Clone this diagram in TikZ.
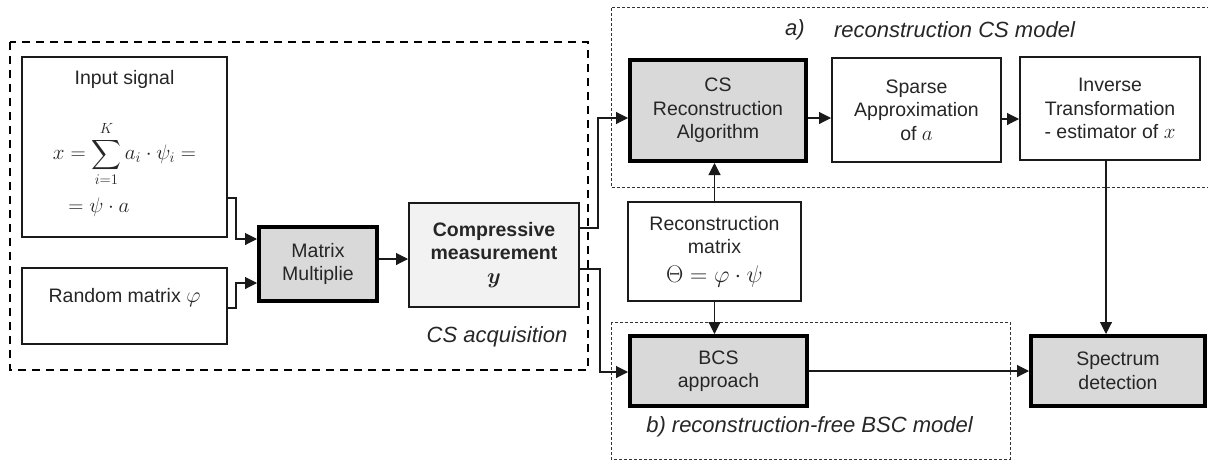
\RequirePackage{fix-cm}
\documentclass[tikz,border=0pt]{standalone}
\usepackage{amsmath,bm}
\usepackage[no-math]{fontspec}
\setmainfont{Liberation Sans}
\usetikzlibrary{arrows.meta,calc}
\definecolor{boxgray}{HTML}{D9D9D9}
\definecolor{lightgray}{HTML}{F2F2F2}
\definecolor{textgray}{HTML}{262626}
\definecolor{linegray}{HTML}{1A1A1A}
\tikzset{
  txt/.style={font=\fontsize{19.5}{23.5}\selectfont, text=textgray, align=center},
  mth/.style={font=\fontsize{21}{25}\selectfont, text=textgray, align=center},
  tbox/.style={draw=black, line width=4pt, fill=boxgray, inner sep=0pt, txt},
  nbox/.style={draw=linegray, line width=2pt, fill=white, inner sep=0pt, txt},
  lbl/.style={font=\fontsize{22}{26}\selectfont\itshape, text=textgray, inner sep=0pt},
  conn/.style={draw=linegray, line width=1.1pt},
  arr/.style={conn, -{Triangle[length=12pt,width=12pt]}},
  bigdash/.style={draw=black, line width=2.5pt, dash pattern=on 8pt off 6pt},
  smalldash/.style={draw=black!80, line width=1pt, dash pattern=on 3pt off 2pt}
}
\begin{document}
\begin{tikzpicture}[x=1pt,y=-1pt]
\useasboundingbox (0,0) rectangle (1208,461);
% group frames
\draw[bigdash] (10,42) rectangle (588,370);
\draw[smalldash] (1220,7) -- (611,7) -- (611,187) -- (1220,187);
\draw[smalldash] (611,322) rectangle (1010,459);
% boxes
\node[nbox, minimum width=205pt, minimum height=180pt] (in) at (124.5,147) {};
\node[txt, inner sep=1pt] (inlbl) at (124.5,79) {Input signal};
\node[mth, inner sep=0pt] (inf1) at (124.5,154) {$\displaystyle x=\sum_{i=1}^{K} a_i\cdot\psi_i =$};
\node[mth] (inf2) at (99,207) {$= \psi\cdot a$};
\node[nbox, minimum width=205pt, minimum height=76pt] (rnd) at (124.5,306) {};
\node[txt] (rndlbl) at (124.5,298) {Random matrix {\fontsize{22}{24}\selectfont$\varphi$}};
\node[tbox, minimum width=118pt, minimum height=74pt] (mm) at (318,264) {Matrix\\Multiplie};
\node[nbox, fill=lightgray, minimum width=170pt, minimum height=104pt] (cm) at (494,255)
  {\textbf{Compressive}\\\textbf{measurement}\\{\fontsize{22}{24}\selectfont$\boldsymbol{y}$}};
\node[tbox, minimum width=176pt, minimum height=101pt] (csr) at (718,110.5) {CS\\Reconstruction\\Algorithm};
\node[nbox, minimum width=169pt, minimum height=104pt] (sp) at (916.5,110) {Sparse\\Approximation\\of {\fontsize{21}{24}\selectfont$a$}};
\node[nbox, minimum width=180pt, minimum height=103pt] (inv) at (1110,108.5) {Inverse\\Transformation\\- estimator of {\fontsize{21}{24}\selectfont$x$}};
\node[nbox, minimum width=173pt, minimum height=99pt] (rm) at (714.5,251.5)
  {Reconstruction\\matrix\\[5pt]{\fontsize{24}{26}\selectfont$\Theta=\varphi\cdot\psi$}};
\node[tbox, minimum width=177pt, minimum height=70pt] (bcs) at (718.5,371) {BCS\\approach};
\node[tbox, minimum width=174pt, minimum height=70pt] (spec) at (1118,371) {Spectrum\\detection};
% labels
\node[lbl] (acqlbl) at (497,337) {CS acquisition};
\node[lbl] (albl) at (795,30) {a)};
\node[lbl] (alblb) at (954.5,30) {reconstruction CS model};
\node[lbl] (blbl) at (809.5,427) {b) reconstruction-free BSC model};
% connectors
\draw[arr] ([yshift=-51pt]in.east) -- ++(8,0) |- ([yshift=25pt]mm.west);
\draw[arr] ([yshift=-2pt]rnd.east) -- ++(8,0) |- ([yshift=-19pt]mm.west);
\draw[arr] ([yshift=5pt]mm.east) -- ([yshift=5pt]mm.east -| cm.west);
\draw[arr] ([yshift=27pt]cm.east) -- ++(18,0) |- ([yshift=-7.5pt]csr.west);
\draw[arr] ([yshift=-14pt]cm.east) -- ++(20,0) |- ([yshift=-1pt]bcs.west);
\draw[arr] ([yshift=-7.5pt]csr.east) -- ([yshift=-7.5pt]csr.east -| sp.west);
\draw[arr] ([yshift=-9pt]sp.east) -- ([yshift=-9pt]sp.east -| inv.west);
\draw[arr] (rm.north) -- (rm.north |- csr.south);
\draw[arr] (rm.south) -- (rm.south |- bcs.north);
\draw[arr] ([xshift=-4pt]inv.south) -- ([xshift=-4pt]inv.south |- spec.north);
\draw[arr] (bcs.east) -- (bcs.east -| spec.west);
\end{tikzpicture}
\end{document}
